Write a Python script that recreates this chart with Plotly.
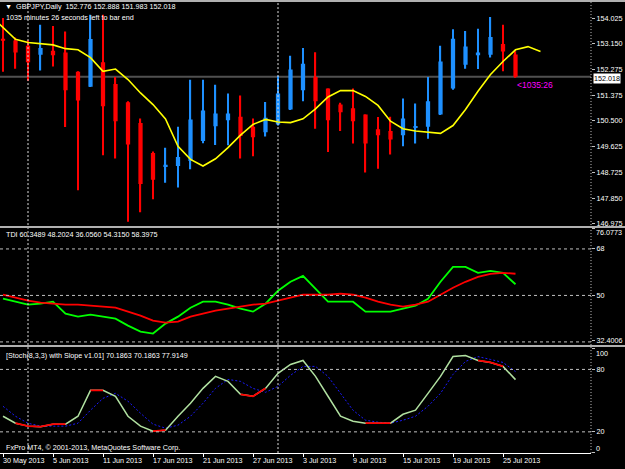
import plotly.graph_objects as go

# ---------------- data ----------------
dates = ["30 May 2013", "31 May 2013",
         "3 Jun 2013", "4 Jun 2013", "5 Jun 2013", "6 Jun 2013", "7 Jun 2013",
         "10 Jun 2013", "11 Jun 2013", "12 Jun 2013", "13 Jun 2013", "14 Jun 2013",
         "17 Jun 2013", "18 Jun 2013", "19 Jun 2013", "20 Jun 2013", "21 Jun 2013",
         "24 Jun 2013", "25 Jun 2013", "26 Jun 2013", "27 Jun 2013", "28 Jun 2013",
         "1 Jul 2013", "2 Jul 2013", "3 Jul 2013", "4 Jul 2013", "5 Jul 2013",
         "8 Jul 2013", "9 Jul 2013", "10 Jul 2013", "11 Jul 2013", "12 Jul 2013",
         "15 Jul 2013", "16 Jul 2013", "17 Jul 2013", "18 Jul 2013", "19 Jul 2013",
         "22 Jul 2013", "23 Jul 2013", "24 Jul 2013", "25 Jul 2013", "26 Jul 2013"]

opens = [153.32, 153.26, 153.08, 152.77, 152.91, 152.85, 152.19, 151.67, 152.51, 151.77,
         151.14, 150.43, 149.40, 148.92, 148.95, 149.12, 149.81, 150.32, 150.52, 150.64,
         150.30, 150.11, 150.38, 150.89, 151.55, 152.01, 151.61, 151.06, 150.93, 150.72,
         150.21, 150.15, 150.01, 150.26, 150.30, 150.72, 151.61, 152.43, 152.75, 152.77,
         153.14, 152.776]
highs = [154.03, 153.36, 153.26, 153.80, 153.76, 153.57, 152.20, 154.14, 154.14, 152.01,
         151.17, 150.58, 149.45, 149.58, 150.30, 151.91, 151.91, 151.74, 151.44, 151.37,
         150.58, 151.15, 152.05, 152.74, 153.00, 152.86, 151.61, 151.12, 151.61, 150.72,
         150.63, 150.64, 151.27, 151.10, 152.01, 153.08, 153.65, 153.59, 153.66, 154.07,
         153.80, 152.888]
lows = [152.19, 152.29, 151.88, 152.23, 152.37, 150.29, 148.12, 151.66, 149.32, 149.21,
        147.04, 147.36, 147.81, 148.38, 148.21, 148.84, 149.73, 149.67, 149.66, 149.21,
        149.29, 149.96, 150.34, 150.87, 151.17, 150.23, 149.43, 150.15, 149.72, 148.73,
        148.86, 149.35, 149.63, 149.72, 149.89, 150.70, 151.57, 152.29, 152.28, 152.68,
        152.20, 151.983]
closes = [153.25, 152.85, 152.51, 153.00, 152.75, 151.55, 151.20, 153.31, 151.00, 150.49,
          149.69, 148.33, 148.48, 148.99, 149.26, 150.55, 150.86, 150.75, 150.75, 149.98,
          149.94, 150.61, 151.44, 152.26, 152.46, 151.17, 150.52, 150.80, 150.49, 149.72,
          150.01, 149.86, 150.58, 150.32, 151.17, 152.54, 153.32, 153.05, 152.85, 153.38,
          152.88, 152.018]

# shifted moving average (bar index -1 .. 43)
ma_index = list(range(-1, 44))
ma_values = [154.12, 153.71, 153.30, 153.19, 153.15, 153.11, 152.98, 152.94, 152.67, 152.20,
             152.28, 151.92, 151.46, 151.06, 150.57, 149.63, 149.18, 148.95, 149.20, 149.58,
             150.01, 150.38, 150.55, 150.46, 150.44, 150.57, 150.91, 151.32, 151.54, 151.54,
             151.34, 151.03, 150.49, 150.23, 150.15, 150.11, 150.07, 150.34, 150.89, 151.52,
             152.09, 152.54, 152.94, 153.05, 152.88]

tdi_green = [48.73, 47.57, 46.41, 46.80, 47.57, 42.95, 41.79, 42.56, 41.79, 41.02,
             38.32, 36.01, 35.24, 39.09, 41.79, 45.26, 47.57, 47.57, 46.41, 44.87,
             43.72, 46.80, 51.81, 55.28, 57.59, 52.58, 47.57, 47.57, 47.57, 43.72,
             43.72, 43.72, 44.87, 46.03, 48.73, 55.28, 61.06, 61.06, 58.75, 59.52,
             58.75, 54.315]
tdi_red = [50.27, 49.11, 47.96, 47.19, 46.80, 46.41, 46.41, 46.03, 45.64, 45.26,
           43.72, 42.17, 40.25, 39.48, 39.86, 41.79, 42.95, 44.10, 44.87, 45.64,
           46.41, 46.80, 47.96, 49.11, 50.27, 50.27, 50.27, 50.66, 50.27, 49.11,
           47.57, 46.41, 45.64, 46.41, 47.57, 50.27, 52.97, 55.28, 57.21, 58.37,
           58.75, 58.3975]

stoch_k = [35.0, 28.3, 25.5, 25.0, 27.4, 27.4, 35.0, 59.9, 59.9, 54.2,
           35.0, 25.5, 20.7, 21.6, 35.0, 47.5, 61.8, 73.3, 68.5, 56.1,
           54.2, 61.8, 76.2, 84.8, 88.6, 73.3, 54.2, 35.0, 30.2, 28.3,
           28.3, 28.3, 36.9, 40.8, 57.0, 73.3, 92.4, 93.4, 88.6, 86.7,
           82.9, 70.1863]
stoch_d = [44.6, 35.0, 28.3, 25.5, 25.5, 25.5, 28.3, 40.8, 52.2, 57.0,
           49.4, 37.9, 27.4, 23.5, 26.4, 35.0, 47.5, 61.8, 70.4, 68.5,
           61.8, 58.0, 63.7, 74.3, 82.9, 82.9, 73.3, 57.0, 40.8, 31.2,
           29.3, 28.3, 31.2, 35.0, 44.6, 57.0, 75.2, 87.7, 92.3, 89.6,
           86.7, 77.9149]
# bar-index ranges where the stochastic slope buffer is drawn red
stoch_red_ranges = [(1, 5), (7, 8), (12, 13), (19, 21), (29, 31), (38, 40)]

price_ticks = [154.025, 153.150, 152.275, 151.375, 150.500, 149.625, 148.725, 147.850, 146.975]
tdi_ticks = [76.0773, 68, 50, 32.4006]
tdi_tick_text = ["76.0773", "68", "50", "32.4006"]
tdi_levels = [68, 50, 32]
stoch_ticks = [100, 80, 20, 0]
stoch_levels = [80, 20]
last_price = 152.018
separator_bars = [2, 22]

# ---------------- geometry helpers (pixels -> paper) ----------------
W, H = 625, 469
XR = 591 / W


def py(p):
    return 1 - p / H


FONT = "Liberation Sans, Arial, sans-serif"
TXT = dict(family=FONT, size=7.2, color="white")

bars = list(range(len(opens)))
up = [c >= o for o, c in zip(opens, closes)]
BULL, BEAR = "#1e90ff", "#ff0000"
cols = [BULL if u else BEAR for u in up]
body_base = [min(o, c) for o, c in zip(opens, closes)]
body_h = [max(abs(c - o), 0.03) for o, c in zip(opens, closes)]
wick_h = [h - l for h, l in zip(highs, lows)]

fig = go.Figure()
fig.add_trace(go.Bar(x=bars, y=wick_h, base=lows, width=0.1, marker=dict(color=cols, line=dict(width=0)),
                     xaxis="x", yaxis="y", hoverinfo="skip"))
fig.add_trace(go.Bar(x=bars, y=body_h, base=body_base, width=0.34, marker=dict(color=cols, line=dict(width=0)),
                     xaxis="x", yaxis="y", hoverinfo="skip"))
fig.add_trace(go.Scatter(x=ma_index, y=ma_values, mode="lines", line=dict(color="#ffff00", width=1.6),
                         xaxis="x", yaxis="y", hoverinfo="skip"))

# TDI
fig.add_trace(go.Scatter(x=bars, y=tdi_green, mode="lines", line=dict(color="#00ff00", width=1.8),
                         xaxis="x", yaxis="y2"))
fig.add_trace(go.Scatter(x=bars, y=tdi_red, mode="lines", line=dict(color="#ff0000", width=1.8),
                         xaxis="x", yaxis="y2"))

# Stochastic
fig.add_trace(go.Scatter(x=bars, y=stoch_d, mode="lines", line=dict(color="#1a1aff", width=1, dash="2px,2px"),
                         xaxis="x", yaxis="y3"))
fig.add_trace(go.Scatter(x=bars, y=stoch_k, mode="lines", line=dict(color="#b0e0a0", width=1.5),
                         xaxis="x", yaxis="y3"))
rx, ry = [], []
for a, b in stoch_red_ranges:
    rx += bars[a:b + 1] + [None]
    ry += stoch_k[a:b + 1] + [None]
fig.add_trace(go.Scatter(x=rx, y=ry, mode="lines", line=dict(color="#ff0000", width=1.8),
                         xaxis="x", yaxis="y3", connectgaps=False))

shapes = []
shapes.append(dict(type="line", xref="paper", yref="y", x0=0, x1=XR, y0=last_price, y1=last_price,
                   line=dict(color="#505050", width=2), layer="below"))
for lv in tdi_levels:
    shapes.append(dict(type="line", xref="paper", yref="y2", x0=0, x1=XR, y0=lv, y1=lv,
                       line=dict(color="#c0c0c0", width=1, dash="3px,3px")))
for lv in stoch_levels:
    shapes.append(dict(type="line", xref="paper", yref="y3", x0=0, x1=XR, y0=lv, y1=lv,
                       line=dict(color="#c0c0c0", width=1, dash="3px,3px")))
for b in separator_bars:
    shapes.append(dict(type="line", xref="x", yref="paper", x0=b, x1=b, y0=py(455), y1=py(2),
                       line=dict(color="#e0e0e0", width=1, dash="2px,2px")))
shapes.append(dict(type="line", xref="paper", yref="paper", x0=XR, x1=XR, y0=py(455), y1=py(1),
                   line=dict(color="#c0c0c0", width=1, dash="1px,2px")))
for yy in (1, 228, 347.5):
    shapes.append(dict(type="line", xref="paper", yref="paper", x0=0, x1=1, y0=py(yy), y1=py(yy),
                       line=dict(color="#b0b0b0", width=2)))

ann = []


def label(text, x, y, **kw):
    d = dict(text=text, x=x, y=y, xref="paper", yref="paper", xanchor="left", yanchor="middle",
             showarrow=False, font=TXT)
    d.update(kw)
    ann.append(d)


label("▼  GBPJPY,Daily  152.776 152.888 151.983 152.018", 3 / W, py(7))
label("1035 minutes 26 seconds left to bar end", 4 / W, py(18))
label("TDI 60.3489 48.2024 36.0560 54.3150 58.3975", 4 / W, py(236))
label("[Stoch(8,3,3) with Slope v1.01] 70.1863 70.1863 77.9149", 4 / W, py(357))
label("FxPro MT4, © 2001-2013, MetaQuotes Software Corp.", 4 / W, py(449))

# axis labels clamped inside their windows (as the terminal draws them)
label(tdi_tick_text[0], XR, py(233.5), xshift=3)
label(str(stoch_ticks[0]), XR, py(355), xshift=3)
label(str(stoch_ticks[-1]), XR, py(450), xshift=3)

ann.append(dict(text="<1035:26", x=len(bars) - 1, y=last_price, xref="x", yref="y", xanchor="left",
                yanchor="top", xshift=-1, yshift=-1, showarrow=False,
                font=dict(family=FONT, size=8.5, color="#ff00ff")))
ann.append(dict(text="152.018", x=XR, y=last_price, xref="paper", yref="y", xanchor="left", yanchor="middle",
                xshift=2, yshift=-1.5, showarrow=False, bgcolor="white", borderpad=0,
                font=dict(family=FONT, size=7.2, color="black")))
for i in range(0, len(bars), 4):
    ann.append(dict(text=dates[i], x=i, y=py(462), xref="x", yref="paper", xanchor="left", yanchor="middle",
                    xshift=-2, showarrow=False, font=TXT))

yax_common = dict(side="right", anchor="x", showgrid=False, zeroline=False, ticks="outside", ticklen=3,
                  tickcolor="#c0c0c0", tickfont=TXT, showline=False, fixedrange=True)

fig.update_layout(
    width=W, height=H, margin=dict(l=0, r=0, t=0, b=0),
    paper_bgcolor="black", plot_bgcolor="black", showlegend=False, barmode="overlay",
    xaxis=dict(domain=[0, XR], range=[-0.24, 47.04], anchor="y3", showgrid=False, zeroline=False,
               tickmode="array", tickvals=list(range(0, len(bars), 4)), ticks="outside", ticklen=3,
               tickcolor="white", showticklabels=False, showline=True, linecolor="white", linewidth=1),
    yaxis=dict(domain=[py(227.5), py(2)], range=[146.873, 154.582], tickmode="array",
               tickvals=price_ticks, ticktext=[f"{v:.3f}" for v in price_ticks], **yax_common),
    yaxis2=dict(domain=[py(346), py(229)], range=[30.99, 76.10], tickmode="array",
                tickvals=tdi_ticks, ticktext=[""] + tdi_tick_text[1:], **yax_common),
    yaxis3=dict(domain=[py(455), py(350)], range=[-0.38, 100.1], tickmode="array",
                tickvals=stoch_ticks, ticktext=[""] + [str(v) for v in stoch_ticks[1:-1]] + [""], **yax_common),
    shapes=shapes, annotations=ann,
)

fig.write_html("out.html")
